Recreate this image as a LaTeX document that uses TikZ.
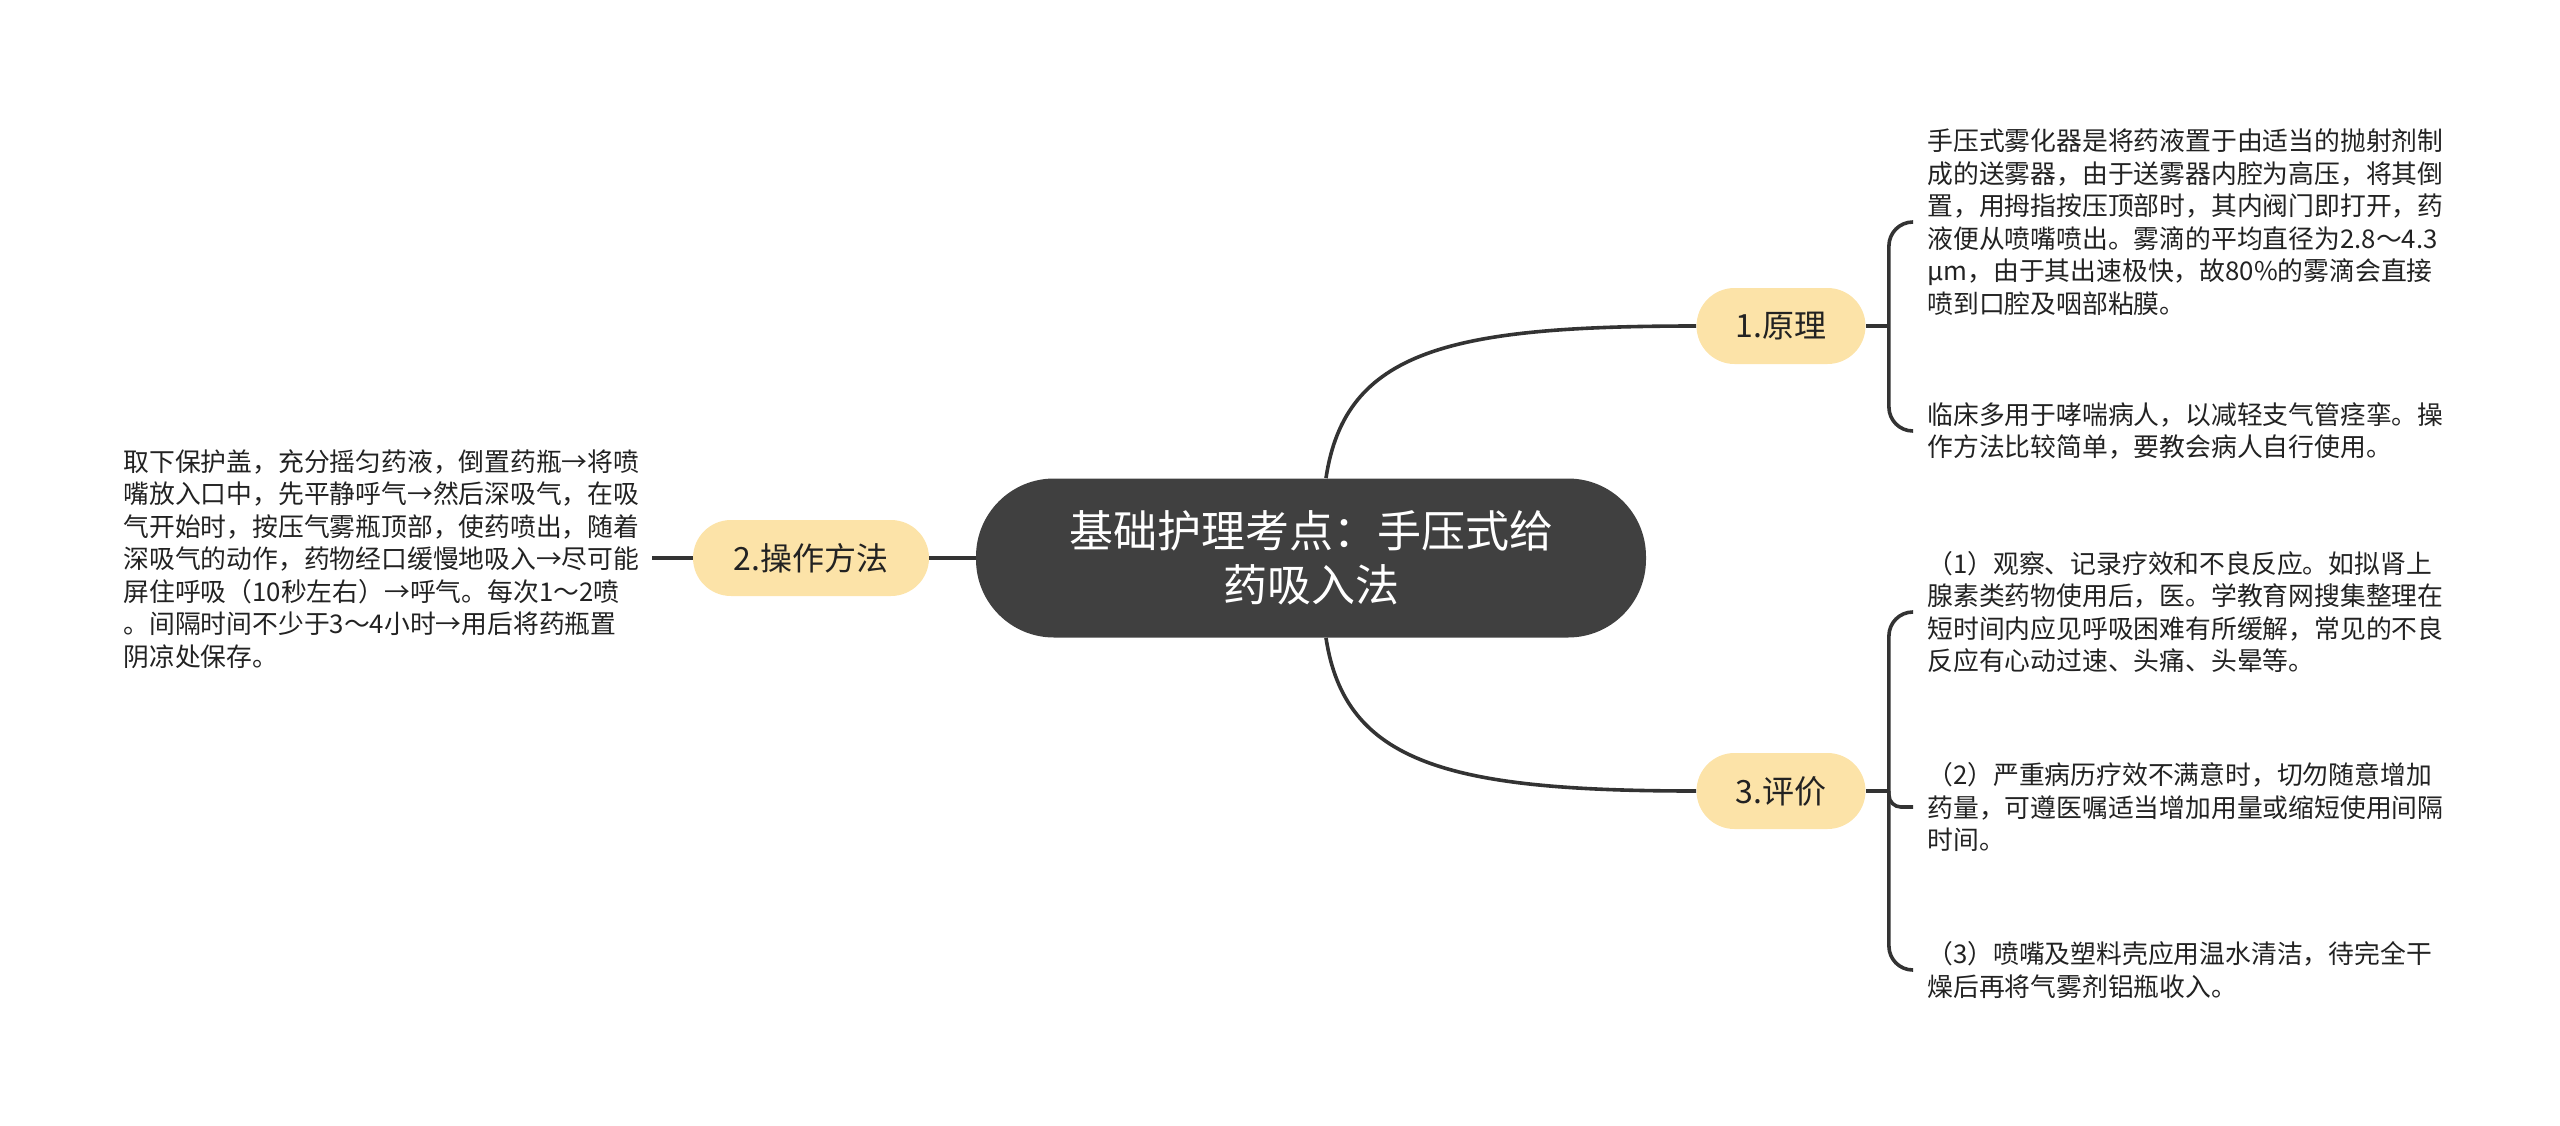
\documentclass[tikz,border=0pt]{standalone}
\usepackage{fontspec}
\setmainfont{Noto Sans CJK SC}
\definecolor{rootgray}{RGB}{64,64,64}
\definecolor{topicyellow}{RGB}{252,227,168}
\definecolor{linegray}{RGB}{51,51,51}
\definecolor{textgray}{RGB}{34,34,34}

\begin{document}
\begin{tikzpicture}[x=0.5pt,y=-0.5pt,
  root/.style={fill=rootgray,text=white,rounded corners=39pt,minimum width=335pt,minimum height=79.5pt,align=center,font=\fontsize{22pt}{27pt}\selectfont},
  topic/.style={fill=topicyellow,text=textgray,rounded corners=19pt,minimum height=38pt,font=\fontsize{16pt}{20pt}\selectfont},
  leaf/.style={anchor=west,inner sep=0pt,align=left,text=textgray,font=\fontsize{12.9pt}{16.25pt}\selectfont},
  link/.style={draw=linegray,line width=1.8pt}]
\useasboundingbox (0,0) rectangle (2560,1125);

\node[root] (root) at (1311,558) {基础护理考点：手压式给\\药吸入法};
\node[topic,minimum width=84.5pt] (yuanli) at (1781,326) {1.原理};
\node[topic,minimum width=118pt] (caozuo) at (811,558) {2.操作方法};
\node[topic,minimum width=84.5pt] (pingjia) at (1781,791) {3.评价};

\node[leaf] (yuanliA) at (1927,222) {手压式雾化器是将药液置于由适当的抛射剂制\\成的送雾器，由于送雾器内腔为高压，将其倒\\置，用拇指按压顶部时，其内阀门即打开，药\\液便从喷嘴喷出。雾滴的平均直径为2.8～4.3\\μm，由于其出速极快，故80\%的雾滴会直接\\喷到口腔及咽部粘膜。};
\node[leaf] (yuanliB) at (1927,431) {临床多用于哮喘病人，以减轻支气管痉挛。操\\作方法比较简单，要教会病人自行使用。};
\node[leaf] (caozuoA) at (123,559) {取下保护盖，充分摇匀药液，倒置药瓶→将喷\\嘴放入口中，先平静呼气→然后深吸气，在吸\\气开始时，按压气雾瓶顶部，使药喷出，随着\\深吸气的动作，药物经口缓慢地吸入→尽可能\\屏住呼吸（10秒左右）→呼气。每次1～2喷\\。间隔时间不少于3～4小时→用后将药瓶置\\阴凉处保存。};
\node[leaf] (pingjiaA) at (1927,612) {（1）观察、记录疗效和不良反应。如拟肾上\\腺素类药物使用后，医。学教育网搜集整理在\\短时间内应见呼吸困难有所缓解，常见的不良\\反应有心动过速、头痛、头晕等。};
\node[leaf] (pingjiaB) at (1927,807) {（2）严重病历疗效不满意时，切勿随意增加\\药量，可遵医嘱适当增加用量或缩短使用间隔\\时间。};
\node[leaf] (pingjiaC) at (1927,970) {（3）喷嘴及塑料壳应用温水清洁，待完全干\\燥后再将气雾剂铝瓶收入。};

\coordinate (yuanliFork) at ([xshift=11.5pt]yuanli.east);
\coordinate (pingjiaFork) at ([xshift=11.5pt]pingjia.east);

\draw[link] ([xshift=7.5pt]root.north) .. controls (1345,350) and (1450,326) .. (yuanli.west);
\draw[link] ([xshift=7.5pt]root.south) .. controls (1345,764) and (1450,791) .. (pingjia.west);
\draw[link] (root.west) -- (caozuo.east);
\draw[link] (caozuo.west) -- ([xshift=6pt]caozuoA.east|-caozuo.west);

\draw[link] (yuanli.east) -- (yuanliFork);
\draw[link,rounded corners=12pt] ([xshift=-7pt]yuanliA.west) -| (yuanliFork) |- ([xshift=-7pt]yuanliB.west);
\draw[link] (pingjia.east) -- (pingjiaFork);
\draw[link,rounded corners=12pt] ([xshift=-7pt]pingjiaA.west) -| (pingjiaFork) |- ([xshift=-7pt]pingjiaC.west);
\draw[link,rounded corners=6pt] (pingjiaFork) |- ([xshift=-7pt]pingjiaB.west);
\end{tikzpicture}
\end{document}
